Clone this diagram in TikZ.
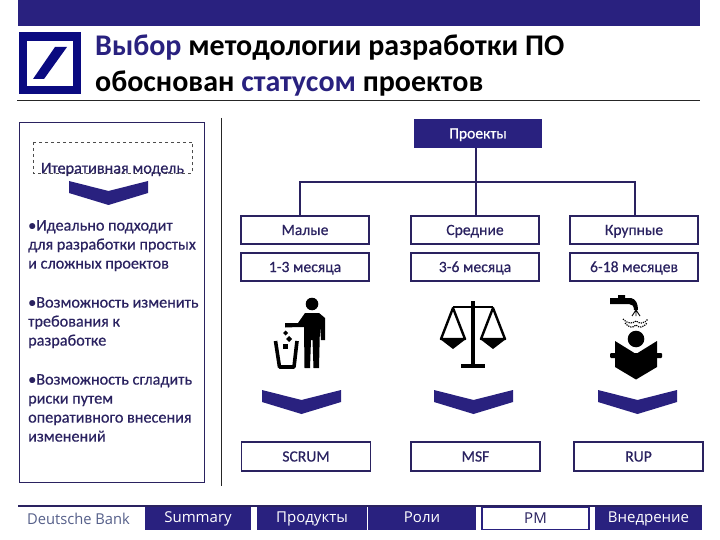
\documentclass[tikz,border=0pt]{standalone}
\usepackage{fontspec}
\setmainfont{Carlito}
\newfontfamily\semi[FakeBold=0.5]{Carlito}
\newfontfamily\footfont{Open Sans}
\definecolor{navy}{HTML}{29217F}
\definecolor{deep}{HTML}{2A2260}
\definecolor{logoblue}{HTML}{0A0A80}
\definecolor{dbgray}{HTML}{56608A}
\tikzset{
 sizebox/.style={draw=deep,line width=1.6pt,fill=white,inner sep=0,text=deep,text height=10pt,text depth=0pt,font=\semi\fontsize{15.6}{18}\selectfont},
 tab/.style={fill=navy,inner sep=0,text=white,text height=9pt,text depth=0pt,font=\footfont\fontsize{15}{16}\selectfont},
 bullets/.style={anchor=north west,inner sep=0,align=left,text=deep,font=\semi\fontsize{16.2}{19}\selectfont},
 conn/.style={draw=deep,line width=1.5pt},
 chev/.style={fill=navy,draw=none},
 ink/.style={fill=black,draw=none},
 inkline/.style={draw=black,line join=round},
}
\newcommand{\boxat}[6]{\node[sizebox,minimum width=#4pt,minimum height=#5pt] (#1) at (#2,#3) {#6};}
\newcommand{\chevat}[2]{\fill[chev] (#1,#2) -- (#1+39.5,#2+10) -- (#1+79,#2) -- (#1+79,#2+12) -- (#1+39.5,#2+24) -- (#1,#2+12) -- cycle;}
\begin{document}
\begin{tikzpicture}[x=1pt,y=-1pt]
\useasboundingbox (0,0) rectangle (720,540);
\fill[white] (0,0) rectangle (720,540);
% top band and logo
\fill[navy] (18,0) rectangle (700,26);
\fill[logoblue] (19,32) rectangle (81,94);
\fill[white] (27,41) rectangle (73,86);
\fill[logoblue] (33,79) -- (44,79) -- (67,47) -- (55,47) -- cycle;
\node[anchor=base west,inner sep=0,font=\fontsize{30}{32}\bfseries\selectfont] (t1) at (95,56) {\textcolor{navy}{Выбор} методологии разработки ПО};
\node[anchor=base west,inner sep=0,font=\fontsize{30}{32}\bfseries\selectfont] (t2) at (95,92) {обоснован \textcolor{navy}{статусом} проектов};
\draw[black!85,line width=0.7pt] (17,100) -- (700,100);
% left panel
\draw[deep,line width=0.8pt] (19.5,122.5) rectangle (204.5,482.5);
\draw[black!85,line width=0.8pt] (221,118) -- (221,486);
\draw[black!70,dashed,line width=0.6pt] (33,142) rectangle (192.5,173);
\node[inner sep=0,text=deep,font=\semi\fontsize{16.2}{18}\selectfont] (model) at (112.5,169.5) {Итеративная модель};
\chevat{69}{181}
\node[bullets] (b1) at (28,220) {•Идеально подходит\\для разработки простых\\и сложных проектов};
\node[bullets] (b2) at (28,297) {•Возможность изменить\\требования к\\разработке};
\node[bullets] (b3) at (28,374) {•Возможность сгладить\\риски путем\\оперативного внесения\\изменений};
% tree
\node[fill=navy,inner sep=0,minimum width=128pt,minimum height=29pt,text=white,text height=10pt,text depth=0pt,font=\semi\fontsize{15.6}{17}\selectfont] (root) at (478,133.5) {Проекты};
\boxat{small}{305}{230}{128}{28}{Малые}
\boxat{mid}{475}{230}{128}{28}{Средние}
\boxat{big}{634}{230}{128}{28}{Крупные}
\boxat{small2}{305}{267}{128}{28}{1-3 месяца}
\boxat{mid2}{475}{267}{128}{28}{3-6 месяца}
\boxat{big2}{634}{267}{128}{28}{6-18 месяцев}
\boxat{scrum}{306}{456.5}{129}{29}{SCRUM}
\boxat{msf}{475.5}{456.5}{129}{29}{MSF}
\boxat{rup}{638.5}{456.5}{129}{29}{RUP}
\coordinate (bus) at (476,182);
\draw[conn] (root.south -| bus) -- (bus |- mid.north);
\draw[conn] (small.north -| 300,0) -- (300,182) -- (635,182) -- (big.north -| 635,0);
% trash icon
\fill[ink] (312,304) circle (6.3);
\fill[ink] (285,323) -- (298,323) -- (305,313) -- (319,313) -- (325,318) -- (325,340) -- (321,340) -- (320,326) -- (319,368) -- (313.5,368) -- (312.5,340) -- (311,340) -- (310,368) -- (304.5,368) -- (304,327) -- (299,327) -- (285,327.5) -- cycle;
\draw[inkline,line width=3.6pt] (275.5,341) -- (279.5,367) -- (294,367) -- (297,341);
\fill[ink] (283,333) -- (285.5,330.5) -- (288,333) -- (285.5,335.5) -- cycle;
\fill[ink] (286,339) -- (289,336) -- (292,339) -- (289,342) -- cycle;
\fill[ink] (283,344) rectangle (288,349);
% scales icon
\fill[ink] (471,301) rectangle (475,366);
\fill[ink] (461,364) rectangle (485,368);
\draw[inkline,line width=2pt] (453,307) -- (493,307);
\draw[inkline,line width=2.4pt] (441,339) -- (453,308) -- (465,339) -- cycle;
\draw[inkline,line width=2.4pt] (481,339) -- (493,308) -- (505,339) -- cycle;
\fill[ink] (440,339) -- (466,339) -- (453,349) -- cycle;
\fill[ink] (480,339) -- (506,339) -- (493,349) -- cycle;
% book and tap icon
\fill[ink] (610,298) -- (618,298) -- (618,295) -- (625,295) -- (625,298) -- (631,298) .. controls (636,299) and (638,304) .. (638,310) -- (634,310) .. controls (634,306) and (632,304) .. (629,304) -- (610,304) -- cycle;
\draw[inkline,line width=0.9pt] (636,310) -- (632,316) (636,310) -- (636,316) (636,310) -- (640,316);
\draw[inkline,line width=1.2pt,densely dotted] (623,319) .. controls (628,324) and (632,324) .. (636,321) .. controls (640,324) and (644,324) .. (648,319);
\draw[inkline,line width=1.2pt,densely dotted] (625,323) .. controls (629,328) and (633,328) .. (636,325) .. controls (639,328) and (643,328) .. (647,323);
\fill[ink] (636,339) circle (8.3);
\fill[ink] (615,341) -- (636,354) -- (657,341) -- (657,367) -- (636,379.5) -- (615,367) -- cycle;
\fill[ink,rounded corners=1pt] (610,353) rectangle (662,358);
% chevrons
\chevat{262}{390}
\chevat{434}{390}
\chevat{598}{390}
% footer
\fill[deep] (18,505) rectangle (702,507);
\node[anchor=west,inner sep=0,text=dbgray,font=\footfont\fontsize{15}{16}\selectfont,xscale=0.98] (db) at (27,519) {Deutsche Bank};
\node[tab,minimum width=106pt,minimum height=23pt] (f1) at (198,518) {Summary};
\node[tab,minimum width=110pt,minimum height=23pt] (f2) at (312,518) {Продукты};
\node[tab,minimum width=108pt,minimum height=23pt] (f3) at (422,518) {Роли};
\node[draw=navy,line width=1.6pt,fill=white,inner sep=0,text=deep,text height=9pt,text depth=0pt,minimum width=107pt,minimum height=22pt,font=\footfont\fontsize{15}{16}\selectfont] (f4) at (535.5,518.5) {PM};
\node[tab,minimum width=107pt,minimum height=23pt] (f5) at (648.5,518) {Внедрение};
\end{tikzpicture}
\end{document}
